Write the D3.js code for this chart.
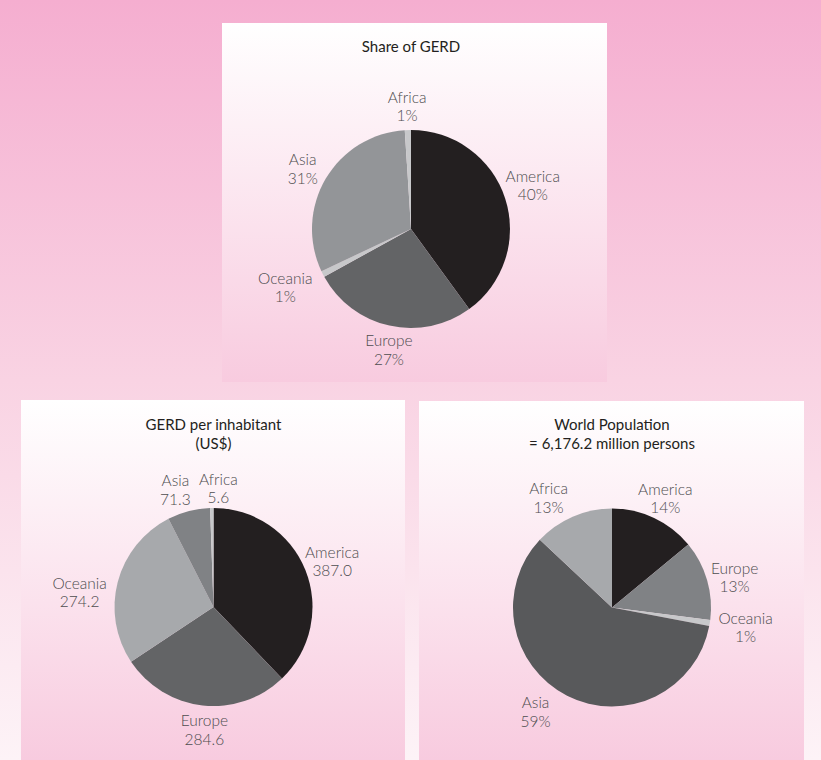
<!DOCTYPE html>
<html>
<head>
<meta charset="utf-8">
<script src="https://cdn.jsdelivr.net/npm/d3@7"></script>
<style>
  html, body { margin: 0; padding: 0; background: #fff; }
  svg { display: block; }
</style>
</head>
<body>
<svg id="chart" width="821" height="760"></svg>
<script>
// ---------------- DATA ----------------
const regions = ["America", "Europe", "Oceania", "Asia", "Africa"];

const gerdShareValues = [40, 27, 1, 31, 1];
const gerdShareLabels = ["40%", "27%", "1%", "31%", "1%"];

const gerdPerInhabitantValues = [387.0, 284.6, 274.2, 71.3, 5.6];
const gerdPerInhabitantLabels = ["387.0", "284.6", "274.2", "71.3", "5.6"];

const populationValues = [14, 13, 1, 59, 13];
const populationLabels = ["14%", "13%", "1%", "59%", "13%"];

const titleShare = ["Share of GERD"];
const titlePerInhabitant = ["GERD per inhabitant", "(US$)"];
const titlePopulation = ["World Population", "= 6,176.2 million persons"];

// ---------------- STYLE / LAYOUT ----------------
const colorsShare = ["#231f20", "#636466", "#c7c8ca", "#939598", "#c7c8ca"];
const colorsPerInhabitant = ["#231f20", "#636466", "#a7a9ac", "#808285", "#c7c8ca"];
const colorsPopulation = ["#231f20", "#808285", "#c7c8ca", "#58595b", "#a7a9ac"];

const FONT = "'Lato', 'Open Sans', sans-serif";
const R = 99;
const LABEL_GAP = 6;
const LINE_H = 18.5;

const panels = [
  { x: 222, y: 23, w: 385, h: 359, cx: 189, cy: 206, titleY: 24,
    title: titleShare, values: gerdShareValues, labels: gerdShareLabels, colors: colorsShare,
    nudges: [[-4,-6],[6,0],[-8,2],[-5,2],[0,0]] },
  { x: 21, y: 400, w: 384, h: 360, cx: 192.5, cy: 207, titleY: 25,
    title: titlePerInhabitant, values: gerdPerInhabitantValues, labels: gerdPerInhabitantLabels, colors: colorsPerInhabitant,
    nudges: [[-4,0],[5,0],[-6,16],[-8,2],[7,4]] },
  { x: 419, y: 401, w: 385, h: 359, cx: 193, cy: 206.5, titleY: 24,
    title: titlePopulation, values: populationValues, labels: populationLabels, colors: colorsPopulation,
    nudges: [[-3,2],[-1,4],[3,0],[-22,-6],[-14,3]] }
];

const svg = d3.select("#chart");
const defs = svg.append("defs");

const bgGrad = defs.append("linearGradient").attr("id", "bgGrad")
  .attr("x1", 0).attr("y1", 0).attr("x2", 0).attr("y2", 1);
bgGrad.append("stop").attr("offset", "0%").attr("stop-color", "#f5aed0");
bgGrad.append("stop").attr("offset", "50%").attr("stop-color", "#f9d3e3");
bgGrad.append("stop").attr("offset", "100%").attr("stop-color", "#fdf3f7");

const panelGrad = defs.append("linearGradient").attr("id", "panelGrad")
  .attr("x1", 0).attr("y1", 0).attr("x2", 0).attr("y2", 1);
panelGrad.append("stop").attr("offset", "0%").attr("stop-color", "#ffffff");
panelGrad.append("stop").attr("offset", "100%").attr("stop-color", "#f8cbdf");

svg.append("rect").attr("x", 0).attr("y", 0).attr("width", 821).attr("height", 760)
  .attr("fill", "url(#bgGrad)");

const pie = d3.pie().sort(null).value(d => d.value);
const arc = d3.arc().innerRadius(0).outerRadius(R);

panels.forEach(p => {
  const g = svg.append("g").attr("transform", `translate(${p.x},${p.y})`);
  g.append("rect").attr("width", p.w).attr("height", p.h).attr("fill", "url(#panelGrad)");

  // title
  const t = g.append("text")
    .attr("x", p.cx).attr("y", p.titleY)
    .attr("text-anchor", "middle")
    .attr("font-family", FONT).attr("font-size", 15).attr("font-weight", 400)
    .attr("fill", "#231f20");
  p.title.forEach((line, i) => {
    t.append("tspan").attr("x", p.cx).attr("dy", i === 0 ? "0.35em" : LINE_H).text(line);
  });

  const data = regions.map((r, i) => ({ region: r, value: p.values[i], label: p.labels[i], color: p.colors[i], nudge: p.nudges[i] }));
  const arcs = pie(data);

  const pg = g.append("g").attr("transform", `translate(${p.cx},${p.cy})`);
  pg.selectAll("path").data(arcs).join("path")
    .attr("d", arc)
    .attr("fill", d => d.data.color);

  // labels
  arcs.forEach(a => {
    const mid = (a.startAngle + a.endAngle) / 2;
    const ux = Math.sin(mid), uy = -Math.cos(mid);
    const lt = pg.append("text")
      .attr("text-anchor", "middle")
      .attr("font-family", FONT).attr("font-size", 15.5).attr("font-weight", 300)
      .attr("fill", "#4d4d4f");
    lt.append("tspan").attr("x", 0).attr("dy", 0).text(a.data.region);
    lt.append("tspan").attr("x", 0).attr("dy", LINE_H).text(a.data.label);
    const bb = lt.node().getBBox();
    const hw = bb.width / 2, hh = bb.height / 2;
    const bx = bb.x + hw, by = bb.y + hh; // current center
    const tx = (R + LABEL_GAP) * ux + hw * ux + a.data.nudge[0];
    const ty = (R + LABEL_GAP) * uy + hh * uy + a.data.nudge[1];
    lt.attr("transform", `translate(${tx - bx},${ty - by})`);
  });
});
</script>
</body>
</html>
